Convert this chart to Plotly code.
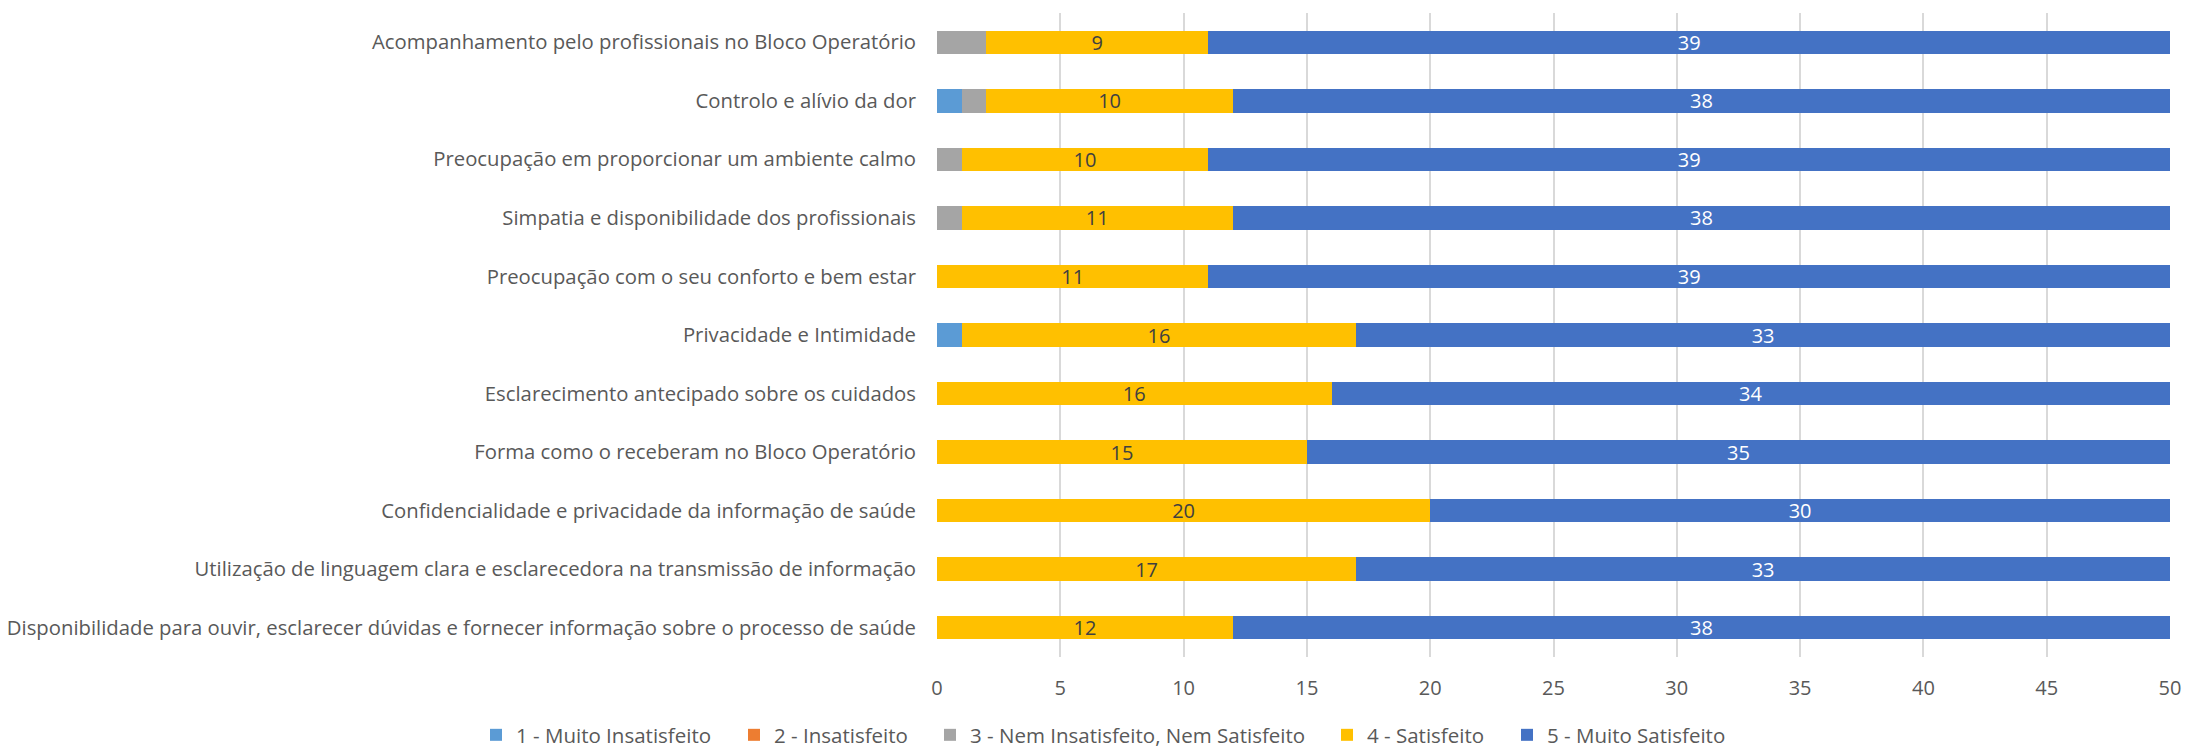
import plotly.graph_objects as go

categories = [
    "Acompanhamento pelo profissionais no Bloco Operatório",
    "Controlo e alívio da dor",
    "Preocupação em proporcionar um ambiente calmo",
    "Simpatia e disponibilidade dos profissionais",
    "Preocupação com o seu conforto e bem estar",
    "Privacidade e Intimidade",
    "Esclarecimento antecipado sobre os cuidados",
    "Forma como o receberam no Bloco Operatório",
    "Confidencialidade e privacidade da informação de saúde",
    "Utilização de linguagem clara e esclarecedora na transmissão de informação",
    "Disponibilidade para ouvir, esclarecer dúvidas e fornecer informação sobre o processo de saúde",
]
muito_insatisfeito = [0, 1, 0, 0, 0, 1, 0, 0, 0, 0, 0]
insatisfeito = [0, 0, 0, 0, 0, 0, 0, 0, 0, 0, 0]
nem = [2, 1, 1, 1, 0, 0, 0, 0, 0, 0, 0]
satisfeito = [9, 10, 10, 11, 11, 16, 16, 15, 20, 17, 12]
muito_satisfeito = [39, 38, 39, 38, 39, 33, 34, 35, 30, 33, 38]

series_names = ["1 - Muito Insatisfeito", "2 - Insatisfeito", "3 - Nem Insatisfeito, Nem Satisfeito",
                "4 - Satisfeito", "5 - Muito Satisfeito"]
series_values = [muito_insatisfeito, insatisfeito, nem, satisfeito, muito_satisfeito]
colors = ["#5B9BD5", "#ED7D31", "#A5A5A5", "#FFC000", "#4472C4"]
show_labels = [False, False, False, True, True]
label_colors = [None, None, None, "#404040", "#FFFFFF"]
x_ticks = [0, 5, 10, 15, 20, 25, 30, 35, 40, 45, 50]

W, H = 2187, 750
L, R, T, B = 937, 17, 13, 93
PW, PH = W - L - R, H - T - B
FONT = "Open Sans, Noto Sans, sans-serif"
TXT = "#595959"

legend_ids = ["legend", "legend2", "legend3", "legend4", "legend5"]
legend_left_px = [476, 734, 930, 1327, 1507]
legend_mid_px = 735

fig = go.Figure()
for name, vals, col, lab, lc, lid in zip(series_names, series_values, colors, show_labels,
                                         label_colors, legend_ids):
    kw = {}
    if lab:
        kw = dict(text=[str(v) for v in vals], textposition="inside", insidetextanchor="middle",
                  textangle=0, insidetextfont=dict(color=lc, size=20, family=FONT),
                  constraintext="none")
    fig.add_trace(go.Bar(y=categories, x=vals, name=name, orientation="h", legend=lid,
                         marker=dict(color=col, line=dict(width=0)), hoverinfo="x+name", **kw))

layout_legends = {}
for lid, px in zip(legend_ids, legend_left_px):
    layout_legends[lid] = dict(orientation="h", xref="paper", yref="paper",
                               x=(px - L) / PW, xanchor="left",
                               y=-(legend_mid_px - (T + PH)) / PH, yanchor="middle",
                               font=dict(size=20.5, color=TXT, family=FONT),
                               itemwidth=30, bgcolor="rgba(0,0,0,0)")

fig.update_layout(
    barmode="stack",
    bargap=0.6,
    width=W, height=H,
    margin=dict(l=L, r=R, t=T, b=B, autoexpand=False),
    plot_bgcolor="white", paper_bgcolor="white",
    font=dict(family=FONT, size=20, color=TXT),
    xaxis=dict(range=[0, 50], tickvals=x_ticks, showgrid=True, gridcolor="#D9D9D9", gridwidth=1.5,
               zeroline=False, showline=False, ticks="", automargin=False, ticklabelstandoff=17,
               tickfont=dict(size=20, color=TXT)),
    yaxis=dict(autorange="reversed", showgrid=False, showline=False, ticks="", automargin=False,
               ticklabelstandoff=20, tickfont=dict(size=20.3, color=TXT)),
    showlegend=True,
    **layout_legends,
)
fig.write_html("out.html", config={"displayModeBar": False},
               post_script="document.body.style.margin='0';document.body.style.overflow='hidden';")
